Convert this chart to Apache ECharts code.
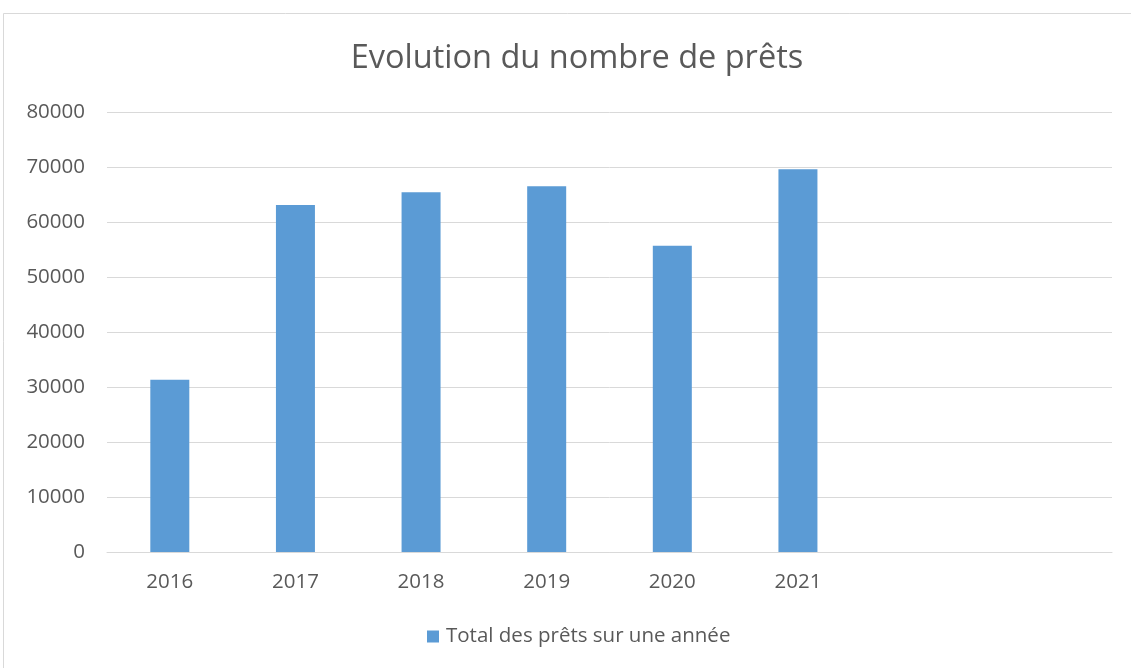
<!DOCTYPE html>
<html><head><meta charset="utf-8">
<script src="https://cdn.jsdelivr.net/npm/echarts@6/dist/echarts.min.js"></script>
<style>html,body{margin:0;padding:0;background:#fff}#c{width:1131px;height:668px}</style>
</head><body><div id="c"></div>
<script>
const categories = ['2016','2017','2018','2019','2020','2021','',''];
const values = [31300, 63100, 65400, 66500, 55700, 69600, null, null];
const yTicks = {min:0, max:80000, interval:10000};
const seriesName = 'Total des prêts sur une année';
const titleText = 'Evolution du nombre de prêts';

const font = '"Open Sans", sans-serif';
const chart = echarts.init(document.getElementById('c'), null, {renderer:'canvas'});
chart.setOption({
  animation:false,
  backgroundColor:'#fff',
  graphic:[{type:'polyline', shape:{points:[[3.5,700],[3.5,13.5],[1200,13.5]]}, style:{stroke:'#d9d9d9', lineWidth:1, fill:null}}],
  title:{text:titleText, left:572, top:37, textAlign:'center',
    textStyle:{fontFamily:font, fontSize:32.5, fontWeight:'normal', color:'#595959'}},
  legend:{bottom:16, left:422, itemWidth:12, itemHeight:12, itemGap:6, icon:'rect',
    textStyle:{fontFamily:font, fontSize:20.5, color:'#595959', padding:[0,0,0,2]}, data:[seriesName]},
  grid:{left:107, right:19, top:112, bottom:116, containLabel:false},
  xAxis:{type:'category', data:categories,
    axisLine:{lineStyle:{color:'#d9d9d9', width:1}}, axisTick:{show:false},
    axisLabel:{fontFamily:font, fontSize:20.5, color:'#595959', margin:20}},
  yAxis:{type:'value', min:yTicks.min, max:yTicks.max, interval:yTicks.interval,
    axisLine:{show:false}, axisTick:{show:false},
    splitLine:{lineStyle:{color:'#d9d9d9', width:1}},
    axisLabel:{fontFamily:font, fontSize:20.5, color:'#595959', margin:22, formatter:v=>String(v)}},
  series:[{name:seriesName, type:'bar', data:values, barWidth:39,
    itemStyle:{color:'#5b9bd5'}}]
});
</script></body></html>
